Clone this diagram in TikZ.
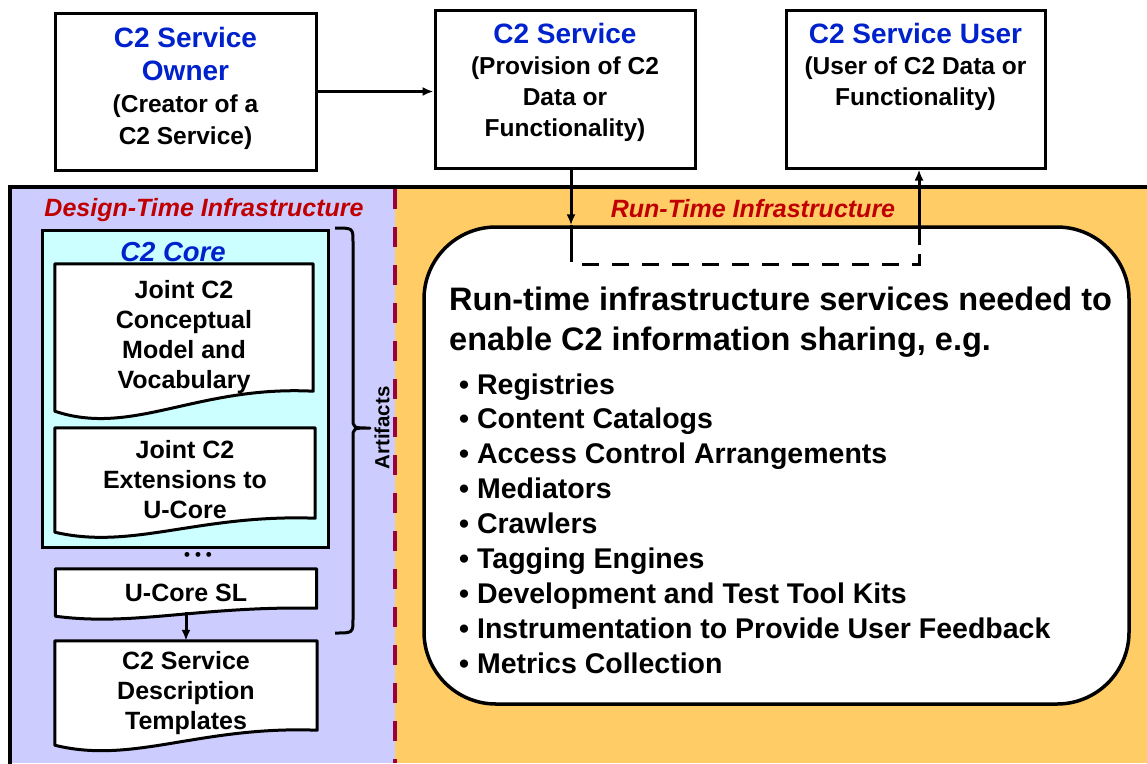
\documentclass[tikz,border=0pt]{standalone}
\usepackage{fontspec}
\setmainfont{Liberation Sans}
\usetikzlibrary{arrows.meta,calc}

\definecolor{designbg}{HTML}{CCCCFF}
\definecolor{runbg}{HTML}{FFCC66}
\definecolor{corecyan}{HTML}{CCFFFF}
\definecolor{titleblue}{HTML}{0022CC}
\definecolor{infored}{HTML}{C00000}
\definecolor{divider}{HTML}{99003D}

\pgfdeclarelayer{panels}
\pgfdeclarelayer{sheets}
\pgfsetlayers{panels,sheets,main}

\newcommand\fsz[2]{\fontsize{#1}{#2}\selectfont}

% Outline of a "document" sheet with a wavy lower edge.
% #1 node name, #2 node width, #3 rise of the lower right corner
\newcommand\sheetoutline[3]{%
  \begin{pgfonlayer}{sheets}
    \filldraw[sheetline] (#1.south west) -- (#1.north west) -- (#1.north east)
      -- ([yshift=#3pt]#1.south east)
      .. controls ([xshift=-0.45*#2pt, yshift=1.3*#3pt]#1.south east)
      and ([xshift=0.3*#2pt, yshift=-1.3*#3pt]#1.south west) .. (#1.south west) -- cycle;
  \end{pgfonlayer}}

\tikzset{
  box/.style={draw, line width=3pt, fill=white, inner sep=0pt},
  boxtext/.style={inner sep=0pt, align=center},
  sheet/.style={inner sep=0pt, align=center, font=\fsz{25}{30}\bfseries},
  sheetline/.style={draw=black, fill=white, line width=3pt, line join=round},
  conn/.style={line width=3pt, -{Latex[length=11pt,width=9pt]}},
  plainline/.style={line width=3pt},
  areatitle/.style={inner sep=0pt, text=infored, font=\fsz{25}{30}\bfseries\itshape},
}

\begin{document}
\begin{tikzpicture}[x=1pt, y=-1pt]
\useasboundingbox (0,0) rectangle (1147,763);

% ---------- infrastructure areas ----------
\begin{pgfonlayer}{panels}
  \fill[white] (0,0) rectangle (1147,763);
  \fill[designbg] (10,187) rectangle (395,763);
  \fill[runbg] (395,187) rectangle (1147,763);
  \draw[line width=4pt, line cap=rect] (10,763) -- (10,187) -- (1147,187);
  \draw[divider, line width=4.5pt, dash pattern=on 20pt off 18pt] (395,189) -- (395,763);
  \node[draw, line width=3pt, fill=corecyan, inner sep=0pt,
        minimum width=286pt, minimum height=317pt] (core) at (185,388.5) {};
\end{pgfonlayer}

% ---------- top row ----------
\node[box, minimum width=261pt, minimum height=157pt] (owner) at (185.5,91.5) {};
\node[boxtext, anchor=north, font=\fsz{24.5}{32.3}\bfseries] (ownertxt) at ([yshift=-16pt]owner.north)
  {{\fontsize{28}{32.3}\selectfont\color{titleblue}C2 Service}\\
   {\fontsize{28}{32.3}\selectfont\color{titleblue}Owner}\\
   (Creator of a\\C2 Service)};

\node[box, minimum width=260pt, minimum height=158pt] (svc) at (565,89) {};
\node[boxtext, anchor=north, font=\fsz{24.5}{31}\bfseries] (svctxt) at ([yshift=-15pt]svc.north)
  {{\fontsize{28}{31}\selectfont\color{titleblue}C2 Service}\\
   (Provision of C2\\Data or\\Functionality)};

\node[box, minimum width=259pt, minimum height=158pt] (user) at (915.5,89) {};
\node[boxtext, anchor=north, font=\fsz{24.5}{31}\bfseries] (usertxt) at ([yshift=-15pt]user.north)
  {{\fontsize{28}{31}\selectfont\color{titleblue}C2 Service User}\\
   (User of C2 Data or\\Functionality)};

\draw[conn] (owner.east) -- (owner.east -| svc.west);

% ---------- design-time side ----------
\node[areatitle] (designtitle) at (204,210) {Design-Time Infrastructure};
\node[inner sep=0pt, text=titleblue, font=\fsz{27.5}{30}\bfseries\itshape] (coretitle) at (173,252) {C2 Core};

\node[sheet, minimum width=258pt, minimum height=147pt] (jcm) at (184,337.5)
  {Joint C2\\Conceptual\\Model and\\Vocabulary};
\sheetoutline{jcm}{258}{20}

\node[sheet, minimum width=260pt, minimum height=104pt] (jext) at (185,480)
  {Joint C2\\Extensions to\\U-Core};
\sheetoutline{jext}{260}{14}

\node[inner sep=0pt, font=\fsz{17}{20}\bfseries] (more) at (198,556) {•\hspace{5pt}•\hspace{5pt}•};

\node[sheet, minimum width=261pt, minimum height=47pt] (ucore) at (186,592.5) {U-Core SL};
\sheetoutline{ucore}{261}{8}

\node[sheet, minimum width=262pt, minimum height=104pt] (tmpl) at (186,693)
  {C2 Service\\Description\\Templates};
\sheetoutline{tmpl}{262}{15}

\draw[conn] ([yshift=4pt]ucore.south) -- (tmpl.north);

% bracket grouping the artifacts
\draw[plainline, line join=round]
  (335,228) .. controls (353,228) .. (353,242) -- (353,418)
  .. controls (353,428) .. (370,428)
  .. controls (353,428) .. (353,438) -- (353,619)
  .. controls (353,633) .. (335,633);
\node[rotate=90, inner sep=0pt, font=\fsz{20.5}{24}\bfseries] (artlbl) at (382,428) {Artifacts};

% ---------- run-time side ----------
\node[areatitle] (runtitle) at (753,209) {Run-Time Infrastructure};

\node[draw, line width=3.5pt, fill=white, rounded corners=72pt, inner sep=0pt,
      minimum width=705pt, minimum height=477pt] (rt) at (776.5,465.5) {};

\node[anchor=west, inner sep=0pt, align=left, font=\fsz{32.5}{40}\bfseries] (rthead) at (449,322)
  {Run-time infrastructure services needed to\\enable C2 information sharing, e.g.};

\node[anchor=west, inner sep=0pt, align=left, font=\fsz{28.5}{34.9}\bfseries] (rtlist) at (459,523.5)
  {•\ Registries\\
   •\ Content Catalogs\\
   •\ Access Control Arrangements\\
   •\ Mediators\\
   •\ Crawlers\\
   •\ Tagging Engines\\
   •\ Development and Test Tool Kits\\
   •\ Instrumentation to Provide User Feedback\\
   •\ Metrics Collection};

% service flow through the run-time infrastructure
\coordinate (dropL) at (571,245);
\coordinate (dropR) at (919,245);
\draw[conn] (svc.south -| dropL) -- (dropL |- rt.north);
\draw[plainline] (dropL |- rt.north) -- (dropL);
\draw[plainline, dash pattern=on 17pt off 13pt] (dropL) -- ++(0,19) -| (dropR);
\draw[conn] (dropR) -- (dropR |- user.south);
\end{tikzpicture}
\end{document}
